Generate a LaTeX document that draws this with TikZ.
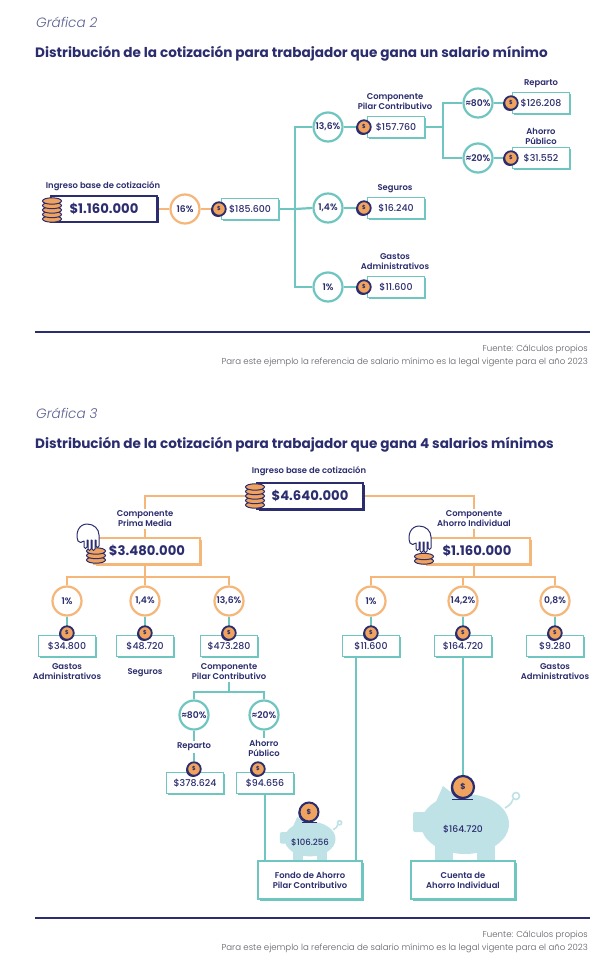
\documentclass[tikz,border=0pt]{standalone}
\usepackage{fontspec}
\setmainfont{Poppins}
\newfontfamily\lightfont{Poppins Light}
\newfontfamily\medfont{Poppins Medium}
\newfontfamily\semifont{Poppins SemiBold}
\usetikzlibrary{shadows}
\definecolor{navy}{HTML}{2B2D6E}
\definecolor{tealc}{HTML}{6FC6C1}
\definecolor{orl}{HTML}{F4B679}
\definecolor{coinor}{HTML}{F0A35E}
\definecolor{pig}{HTML}{BFE2E6}
\definecolor{graytxt}{HTML}{5E5E66}
\definecolor{grafc}{HTML}{5A6092}
\pgfdeclarelayer{back}
\pgfdeclarelayer{bg}
\pgfsetlayers{back,bg,main}
\tikzset{
 lbl/.style={font=\semifont\fontsize{8.4}{10}\selectfont, text=navy, align=center, inner sep=1.5pt},
 tbox/.style={draw=tealc, line width=1.5pt, fill=white, minimum width=57pt, minimum height=21pt, inner sep=0pt, text=navy, font=\medfont\fontsize{9.4}{10}\selectfont, general shadow={fill=tealc, shadow xshift=1.5pt, shadow yshift=-1.5pt}},
 navybox/.style={draw=navy, line width=1.7pt, fill=white, minimum width=106pt, minimum height=26pt, inner sep=0pt, text=navy, font=\fontsize{13.2}{14}\selectfont\bfseries, general shadow={fill=navy, shadow xshift=1.5pt, shadow yshift=-1.5pt}},
 obox/.style={navybox, draw=orl, general shadow={fill=orl, shadow xshift=1.5pt, shadow yshift=-1.5pt}},
 fbox/.style={tbox, minimum width=104pt, minimum height=38pt, align=center, font=\semifont\fontsize{8.4}{10}\selectfont},
 tcirc/.style={circle, draw=tealc, line width=2.2pt, fill=white, minimum size=29pt, inner sep=0pt, text=navy, font=\semifont\fontsize{9.2}{10}\selectfont},
 ocirc/.style={tcirc, draw=orl},
 coin/.style={circle, fill=coinor, draw=navy, line width=1.8pt, minimum size=13.5pt, inner sep=0pt, text=navy, font=\fontsize{5.5}{5.5}\selectfont\bfseries, general shadow={fill=navy, shadow xshift=-1.2pt, shadow yshift=-1.2pt}},
 tline/.style={draw=tealc, line width=2.2pt},
 oline/.style={draw=orl, line width=2.2pt},
 rule/.style={draw=navy, line width=1.1pt},
 src/.style={anchor=east, inner sep=0pt, text=graytxt, font=\lightfont\fontsize{8.6}{10}\selectfont},
 grafica/.style={anchor=west, inner sep=0pt, text=grafc, font=\lightfont\itshape\fontsize{13.5}{14}\selectfont},
 ttl/.style={anchor=west, inner sep=0pt, text=navy, font=\fontsize{13.6}{15}\selectfont\bfseries},
 stack/.pic={\foreach \i in {1,...,#1}{\filldraw[fill=coinor, draw=navy, line width=1pt] (0,{-(\i-1)*4.5}) ellipse (9.5 and 3.2);}},
 hand/.pic={\filldraw[fill=white,draw=navy,line width=1pt,line join=round]
  (-10,4) .. controls (-13,-4) and (-9,-13) .. (-1,-13)
  .. controls (6,-13) and (11,-8) .. (11,-2)
  -- (11,9) .. controls (11,11) and (8,11) .. (8,9) -- (8,3)
  -- (7,3) -- (7,12) .. controls (7,14) and (4,14) .. (4,12) -- (4,3)
  -- (3,3) -- (3,12) .. controls (3,14) and (0,14) .. (0,12) -- (0,3)
  -- (-1,3) -- (-1,10) .. controls (-1,12) and (-4,12) .. (-4,10) -- (-4,4)
  .. controls (-6,6) and (-9,6) .. (-10,4) -- cycle;},
 piggy/.pic={
  \fill[pig] (0,0) ellipse (44 and 30);
  \fill[pig, rounded corners=2pt] (-52,-12) rectangle (-36,8);
  \fill[pig] (-30,-20) -- (-22,-38) -- (-8,-27) -- cycle;
  \fill[pig] (-30,10) rectangle (-12,36);
  \fill[pig] (12,10) rectangle (30,36);
  \draw[pig, line width=1.6pt] (40,-16) .. controls (46,-20) .. (48,-25);
  \draw[pig, line width=1.6pt] (51,-28) circle (3.5);}
}
\begin{document}
\begin{tikzpicture}[x=1pt,y=-1pt]
\useasboundingbox (0,0) rectangle (606,968);
\begin{pgfonlayer}{back}
\fill[white] (0,0) rectangle (606,968);
\end{pgfonlayer}

% ---------------- Grafica 2 ----------------
\node[grafica] (g2) at (36,22) {Gráfica 2};
\node[ttl] (t2) at (35,54) {Distribución de la cotización para trabajador que gana un salario mínimo};

\node[lbl] (lib1) at (103,186) {Ingreso base de cotización};
\node[navybox] (ib1) at (104,209) {\$1.160.000};
\pic at (52,219) {stack=5};
\node[ocirc] (c16) at (185,209) {16\%};
\node[tbox] (b185) at (250,209) {\$185.600};
\node[coin] (k185) at (219,209) {\$};
\coordinate (j1) at (295,209);

\node[tcirc] (c136) at (328,127) {13,6\%};
\node[tcirc] (c14) at (328,208) {1,4\%};
\node[tcirc] (c1) at (328,287) {1\%};
\node[tbox] (b157) at (396,127) {\$157.760};
\node[tbox] (b16) at (396,208) {\$16.240};
\node[tbox] (b11) at (396,287) {\$11.600};
\node[coin] (k157) at (364,127) {\$};
\node[coin] (k16) at (364,208) {\$};
\node[coin] (k11) at (364,287) {\$};
\node[lbl] (lpc1) at (395,102) {Componente\\Pilar Contributivo};
\node[lbl] (lseg1) at (395,189) {Seguros};
\node[lbl] (lga1) at (395,262) {Gastos\\Administrativos};
\coordinate (j2) at (443,127);

\node[tcirc] (c80t) at (478,103) {≈80\%};
\node[tcirc] (c20t) at (478,158) {≈20\%};
\node[tbox] (b126) at (541,103) {\$126.208};
\node[tbox] (b31) at (541,158) {\$31.552};
\node[coin] (k126) at (511,103) {\$};
\node[coin] (k31) at (511,158) {\$};
\node[lbl] (lrep1) at (541,84) {Reparto};
\node[lbl] (lap1) at (541,136) {Ahorro\\Público};

\begin{pgfonlayer}{bg}
\draw[oline] (ib1.east) -- (c16.west);
\draw[oline] (c16.east) -- (b185.west);
\draw[tline] (b185.east) -- (j1);
\draw[tline] (c136.west) -| (j1);
\draw[tline] (c1.west) -| (j1);
\draw[tline] (c14.west) -- (j1);
\draw[tline] (c136.east) -- (b157.west);
\draw[tline] (c14.east) -- (b16.west);
\draw[tline] (c1.east) -- (b11.west);
\draw[tline] (b157.east) -- (j2);
\draw[tline] (c80t.west) -| (j2);
\draw[tline] (c20t.west) -| (j2);
\draw[tline] (c80t.east) -- (b126.west);
\draw[tline] (c20t.east) -- (b31.west);
\end{pgfonlayer}

\draw[rule] (35,332) coordinate (r1a) -- (590,332) coordinate (r1b);
\node[src] (s1) at (588,349) {Fuente: Cálculos propios};
\node[src] (s2) at (588,362) {Para este ejemplo la referencia de salario mínimo es la legal vigente para el año 2023};

% ---------------- Grafica 3 ----------------
\node[grafica] (g3) at (36,413) {Gráfica 3};
\node[ttl] (t3) at (35,445) {Distribución de la cotización para trabajador que gana 4 salarios mínimos};

\node[lbl] (lib2) at (309,471) {Ingreso base de cotización};
\node[navybox] (ib2) at (310,496) {\$4.640.000};
\pic at (255,505) {stack=5};

\node[lbl] (lpm) at (145,519) {Componente\\Prima Media};
\node[obox] (pm) at (147,551) {\$3.480.000};
\pic at (96,560) {stack=3};
\pic at (88,537) {hand};
\node[lbl] (lai) at (474,519) {Componente\\Ahorro Individual};
\node[obox] (ai) at (477,551) {\$1.160.000};
\pic at (424,561) {stack=2};
\pic at (420,539) {hand};

\coordinate (jpm) at (145,577);
\coordinate (jai) at (474,577);
\node[ocirc] (c1a) at (67,601) {1\%};
\node[ocirc] (c2a) at (145,601) {1,4\%};
\node[ocirc] (c3a) at (229,601) {13,6\%};
\node[ocirc] (c1b) at (371,601) {1\%};
\node[ocirc] (c2b) at (463,601) {14,2\%};
\node[ocirc] (c3b) at (555,601) {0,8\%};

\node[tbox] (b1a) at (67,646) {\$34.800};
\node[tbox] (b2a) at (145,646) {\$48.720};
\node[tbox] (b3a) at (229,646) {\$473.280};
\node[tbox] (b1b) at (371,646) {\$11.600};
\node[tbox] (b2b) at (463,646) {\$164.720};
\node[tbox] (b3b) at (555,646) {\$9.280};
\foreach \n/\x in {1a/67,2a/145,3a/229,1b/371,2b/463,3b/555}{\node[coin] (k\n) at (\x,633) {\$};}

\node[lbl] (lga2) at (67,672) {Gastos\\Administrativos};
\node[lbl] (lseg2) at (145,673) {Seguros};
\node[lbl] (lpc2) at (229,672) {Componente\\Pilar Contributivo};
\node[lbl] (lga3) at (555,672) {Gastos\\Administrativos};

\coordinate (jpc) at (229,692);
\node[tcirc] (c80) at (194,715) {≈80\%};
\node[tcirc] (c20) at (264,715) {≈20\%};
\node[lbl] (lrep2) at (194,747) {Reparto};
\node[lbl] (lap2) at (264,748) {Ahorro\\Público};
\node[tbox] (b80) at (195,783) {\$378.624};
\node[tbox] (b20) at (265,783) {\$94.656};
\node[coin] (k80) at (194,769) {\$};
\node[coin] (k20) at (258,769) {\$};

\node[fbox] (fondo) at (310,880) {Fondo de Ahorro\\Pilar Contributivo};
\node[fbox] (cuenta) at (463,880) {Cuenta de\\Ahorro Individual};

\pic[scale=0.58] at (310,839) {piggy};
\node[font=\medfont\fontsize{8.6}{9}\selectfont, text=navy, inner sep=0pt] (p1v) at (310,842) {\$106.256};
\draw[navy, line width=1pt] (302,822) -- (317,822);
\node[coin, minimum size=19pt, line width=2pt, font=\fontsize{7}{7}\selectfont\bfseries] (kp1) at (309,812) {\$};
\pic at (465,824) {piggy};
\node[font=\medfont\fontsize{9.2}{10}\selectfont, text=navy, inner sep=0pt] (p2v) at (463,829) {\$164.720};
\draw[navy, line width=1pt] (452,799) -- (473,799);
\node[coin, minimum size=22pt, line width=2.2pt, font=\fontsize{8}{8}\selectfont\bfseries] (kp2) at (463,787) {\$};

\begin{pgfonlayer}{bg}
\draw[oline] (ib2.west) -| (lpm.north);
\draw[oline] (lpm.south) -- (lpm.south |- pm.north);
\draw[oline] (ib2.east) -| (lai.north);
\draw[oline] (lai.south) -- (lai.south |- ai.north);
\draw[oline] (pm.south -| jpm) -- (jpm);
\draw[oline] (c1a.north) |- (jpm) -| (c3a.north);
\draw[oline] (c2a.north) -- (jpm);
\draw[oline] (ai.south -| jai) -- (jai);
\draw[oline] (c1b.north) |- (jai) -| (c3b.north);
\draw[oline] (c2b.north) -- (c2b.north |- jai);
\foreach \n in {1a,2a,3a,1b,2b,3b}{\draw[tline] (c\n.south) -- (b\n.north);}
\draw[tline] (lpc2.south) -- (jpc);
\draw[tline] (c80.north) |- (jpc) -| (c20.north);
\draw[tline] (c80.south) -- (lrep2.north);
\draw[tline] (lrep2.south) -- (k80.north);
\draw[tline] (c20.south) -- (lap2.north);
\draw[tline] (b20.south) -- (b20.south |- fondo.north);
\draw[tline] ([xshift=-15pt]b1b.south) -- ([xshift=-15pt]b1b.south |- fondo.north);
\draw[tline] (b2b.south) -- (kp2.north);
\end{pgfonlayer}

\draw[rule] (35,918) coordinate (r2a) -- (590,918) coordinate (r2b);
\node[src] (s3) at (588,935) {Fuente: Cálculos propios};
\node[src] (s4) at (588,948) {Para este ejemplo la referencia de salario mínimo es la legal vigente para el año 2023};
\end{tikzpicture}
\end{document}
